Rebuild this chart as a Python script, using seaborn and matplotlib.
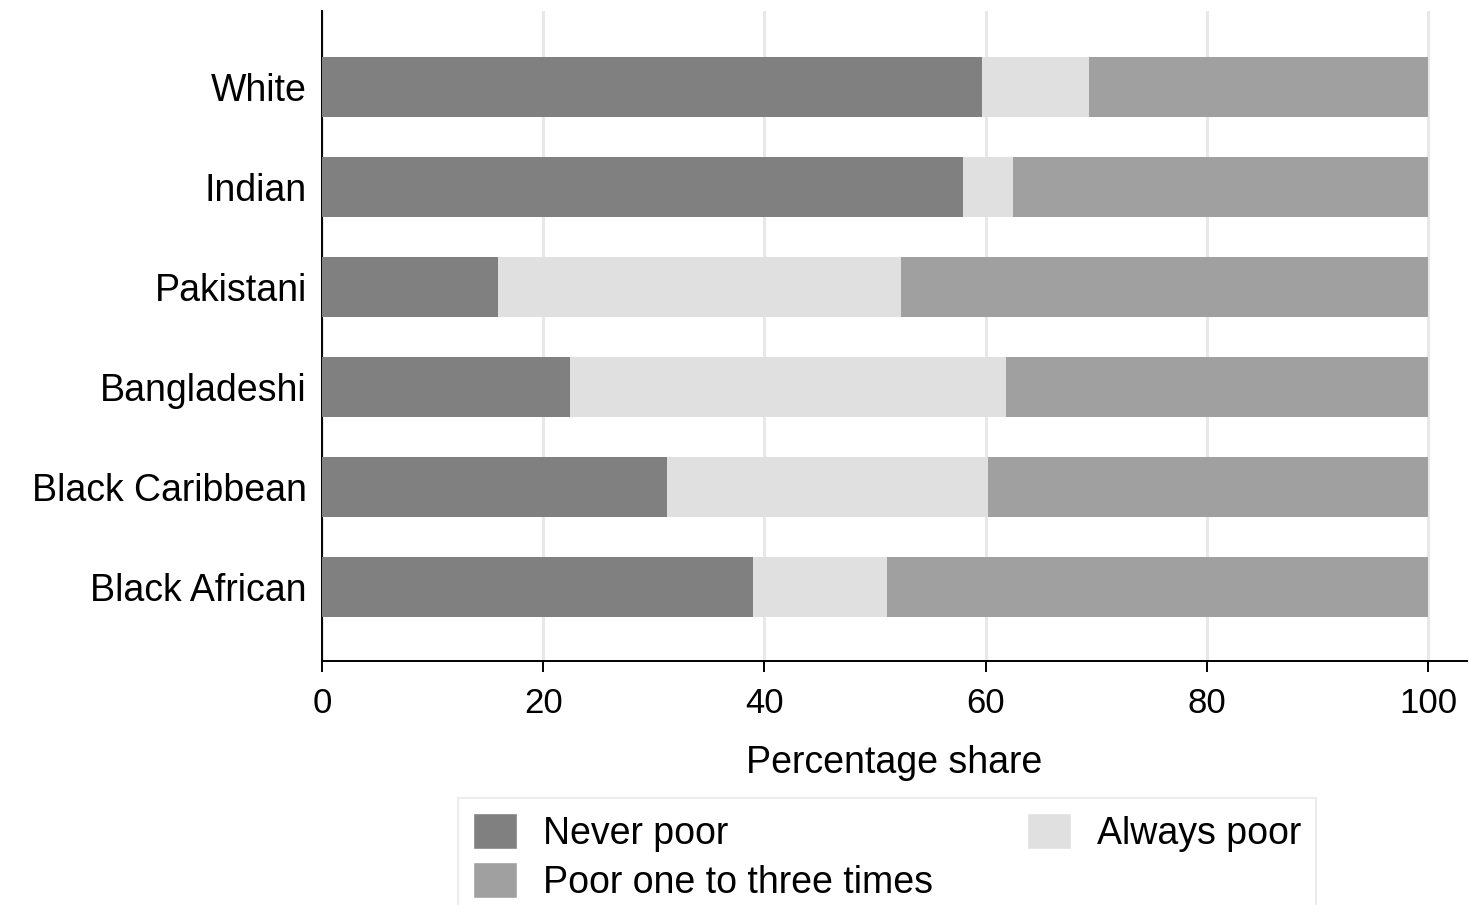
import numpy as np
import pandas as pd
import seaborn as sns
import matplotlib
matplotlib.use("Agg")
import matplotlib.pyplot as plt
from matplotlib.patches import Patch

groups = ["White", "Indian", "Pakistani", "Bangladeshi", "Black Caribbean", "Black African"]
never_poor = [59.7, 57.9, 15.9, 22.4, 31.2, 39.0]
always_poor = [9.6, 4.6, 36.4, 39.4, 29.0, 12.1]
poor_1_3 = [30.7, 37.5, 47.7, 38.2, 39.8, 48.9]

series_names = ["Never poor", "Always poor", "Poor one to three times"]
series_colors = ["#808080", "#e0e0e0", "#a0a0a0"]

sns.set_style("white")
plt.rcParams['font.family'] = ['Liberation Sans', 'DejaVu Sans']
plt.rcParams['text.color'] = 'black'
plt.rcParams['xtick.color'] = 'black'
plt.rcParams['ytick.color'] = 'black'
plt.rcParams['axes.labelcolor'] = 'black'

df = pd.DataFrame({"group": groups, "never": never_poor,
                   "always": always_poor, "some": poor_1_3})
df["c1"] = df["never"]
df["c2"] = df["never"] + df["always"]
df["c3"] = df["c2"] + df["some"]

fig = plt.figure(figsize=(14.69, 9.05), dpi=100)
ax = fig.add_axes([0.2192, 0.2696, 0.7794, 0.7182])

# draw cumulative totals back to front so the bars stack
for col, color in [("c3", series_colors[2]), ("c2", series_colors[1]), ("c1", series_colors[0])]:
    sns.barplot(data=df, x=col, y="group", orient="h", color=color,
                width=0.6, linewidth=0, saturation=1, ax=ax, zorder=3)

ax.set_xlim(0, 103.5)
ax.set_ylim(5.74, -0.76)
ax.set_xticks([0, 20, 40, 60, 80, 100])
ax.xaxis.grid(True, color="#e8e8e8", linewidth=2.2, zorder=0)
ax.set_axisbelow(True)
ax.tick_params(axis="x", length=8, width=1.4, labelsize=25, pad=11, bottom=True)
ax.tick_params(axis="y", length=0, labelsize=27, pad=11)
ax.set_xlabel("Percentage share", fontsize=27, labelpad=18)
ax.set_ylabel("")
for s in ["top", "right"]:
    ax.spines[s].set_visible(False)
for s in ["left", "bottom"]:
    ax.spines[s].set_color("black")
    ax.spines[s].set_linewidth(1.4)

handles = [Patch(facecolor=series_colors[0], label=series_names[0]),
           Patch(facecolor=series_colors[2], label=series_names[2]),
           Patch(facecolor=series_colors[1], label=series_names[1])]
leg = fig.legend(handles=handles, loc="upper left", bbox_to_anchor=(458 / 1469, 1 - 798 / 905),
                 ncol=2, fontsize=27, frameon=True, fancybox=False,
                 handlelength=1.17, handleheight=1.1, handletextpad=0.7,
                 labelspacing=0.27, borderpad=0.4, borderaxespad=0, columnspacing=2.5)
leg.get_frame().set_edgecolor("#e8e8e8")
leg.get_frame().set_linewidth(1.5)

fig.savefig("out.png", dpi=100)
